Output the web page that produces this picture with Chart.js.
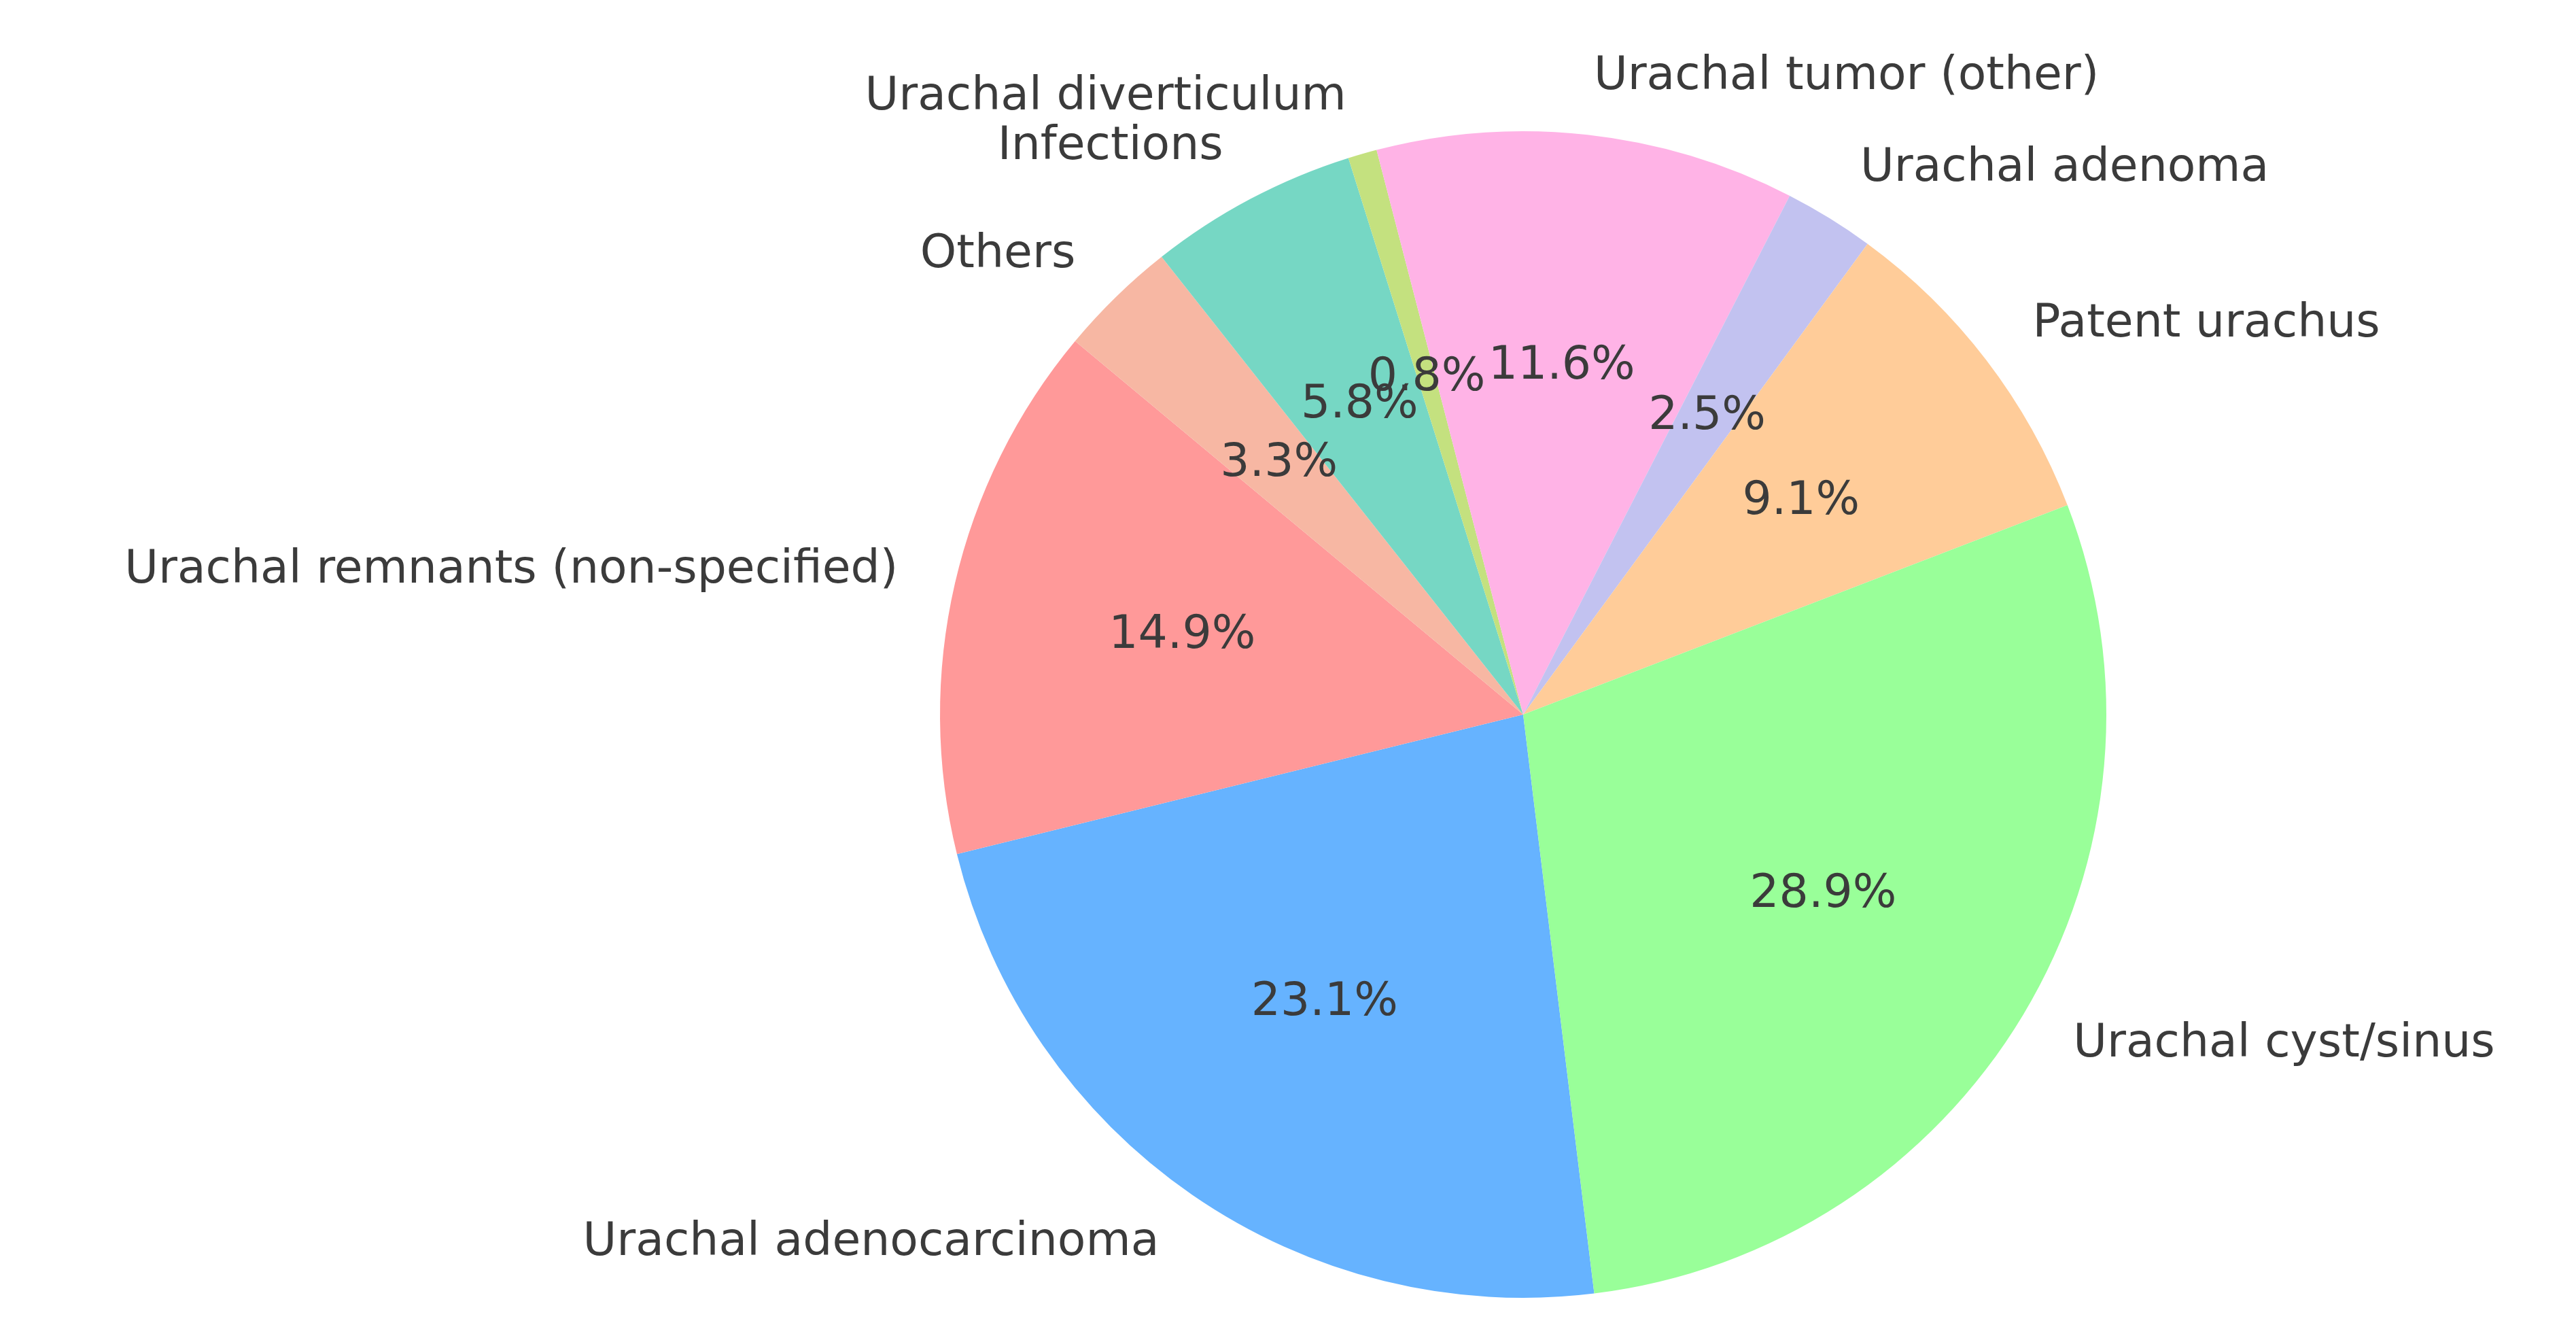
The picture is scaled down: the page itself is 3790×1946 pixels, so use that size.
<!DOCTYPE html>
<html>
<head>
<meta charset="utf-8">
<script src="https://cdn.jsdelivr.net/npm/chart.js@4"></script>
<style>
  html, body { margin: 0; padding: 0; background: #fff; }
  #wrap { width: 3790px; height: 1946px; position: relative; }
</style>
</head>
<body>
<div id="wrap"><canvas id="chart"></canvas></div>
<script>
"use strict";
// clockwise order, starting at the bottom-left
const categories = ['Urachal adenocarcinoma', 'Urachal remnants (non-specified)', 'Others', 'Infections',
    'Urachal diverticulum', 'Urachal tumor (other)', 'Urachal adenoma', 'Patent urachus', 'Urachal cyst/sinus'];
const shares = [23.1, 14.9, 3.3, 5.8, 0.8, 11.6, 2.5, 9.1, 28.9];
const colors = ['#66b3ff', '#ff9999', '#f7b7a3', '#76d7c4', '#c4e17f', '#ffb3e6', '#c2c2f0', '#ffcc99', '#99ff99'];

const textPlugin = {
    id: 'pieText',
    afterDatasetsDraw(chart) {
        let ctx = chart.ctx;
        let meta = chart.getDatasetMeta(0);
        ctx.save();
        ctx.font = '68px "DejaVu Sans"';
        ctx.fillStyle = '#3b3b3b';
        ctx.textBaseline = 'middle';
        meta.data.forEach((arc, i) => {
            let p = arc.getProps(['x', 'y', 'startAngle', 'endAngle', 'outerRadius'], true);
            let mid = (p.startAngle + p.endAngle) / 2;
            let c = Math.cos(mid), s = Math.sin(mid);
            ctx.textAlign = c >= 0 ? 'left' : 'right';
            ctx.fillText(categories[i], p.x + c * p.outerRadius * 1.1, p.y + s * p.outerRadius * 1.1);
            ctx.textAlign = 'center';
            ctx.fillText(shares[i].toFixed(1) + '%', p.x + c * p.outerRadius * 0.6, p.y + s * p.outerRadius * 0.6);
        });
        ctx.restore();
    }
};

new Chart(document.getElementById('chart').getContext('2d'), {
    type: 'pie',
    data: {
        labels: categories,
        datasets: [{
            data: shares,
            backgroundColor: colors,
            borderWidth: 0
        }]
    },
    options: {
        responsive: true,
        maintainAspectRatio: false,
        animation: false,
        rotation: 173,
        layout: { padding: { top: 193, bottom: 37, left: 1383, right: 691 } },
        plugins: { legend: { display: false }, tooltip: { enabled: false } }
    },
    plugins: [textPlugin]
});
</script>
</body>
</html>
